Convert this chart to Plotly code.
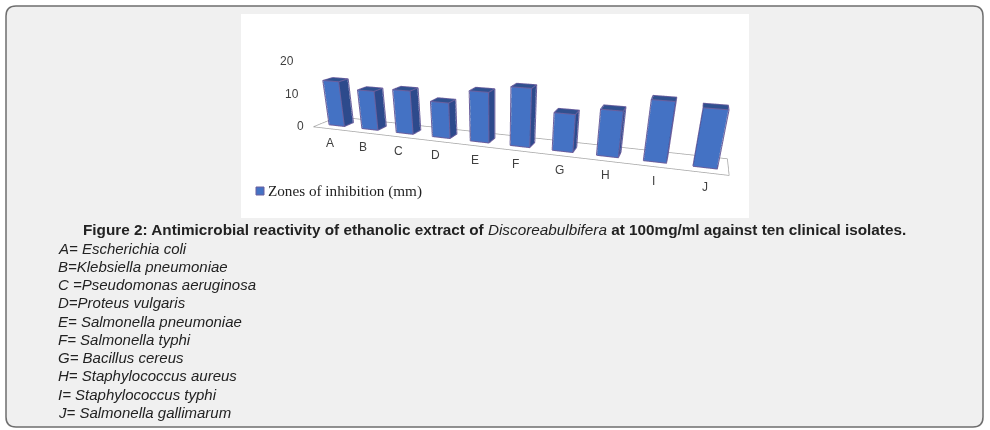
import numpy as np
import plotly.graph_objects as go

# values
categories = ["A", "B", "C", "D", "E", "F", "G", "H", "I", "J"]
zones_mm = [14, 12, 13, 10.5, 14.5, 16.5, 10.5, 12.5, 16, 15]
value_ticks = [0, 10, 20]
series_name = "Zones of inhibition (mm)"
isolates = [
    "A= Escherichia coli",
    "B=Klebsiella pneumoniae",
    "C =Pseudomonas aeruginosa",
    "D=Proteus vulgaris",
    "E= Salmonella pneumoniae",
    "F= Salmonella typhi",
    "G= Bacillus cereus",
    "H= Staphylococcus aureus",
    "I= Staphylococcus typhi",
    "J= Salmonella gallimarum",
]

W, H = 990, 430
FRONT = "#4472C4"
SIDE = "#2D4A8C"
TOP = "#30508F"
EDGE = "#6A5F9E"

# bar footprint in data units (x = category index, y = floor depth 0..1)
half_w = 0.225
y0, y1 = 0.30, 0.66

xs, ys, zs = [], [], []
ii, jj, kk, fc = [], [], [], []
ex, ey, ez = [], [], []
faces = [((0, 1, 2), SIDE), ((0, 2, 3), SIDE),      # bottom
         ((4, 5, 6), TOP), ((4, 6, 7), TOP),        # top
         ((0, 1, 5), FRONT), ((0, 5, 4), FRONT),    # front
         ((3, 2, 6), SIDE), ((3, 6, 7), SIDE),      # back
         ((0, 3, 7), SIDE), ((0, 7, 4), SIDE),      # left
         ((1, 2, 6), SIDE), ((1, 6, 5), SIDE)]      # right
for i, v in enumerate(zones_mm):
    a, b = i - half_w, i + half_w
    base = len(xs)
    xs += [a, b, b, a, a, b, b, a]
    ys += [y0, y0, y1, y1, y0, y0, y1, y1]
    zs += [0, 0, 0, 0, v, v, v, v]
    for (p, q, r), c in faces:
        ii.append(base + p); jj.append(base + q); kk.append(base + r); fc.append(c)
    # outline, pushed out a hair so it is not hidden by the faces
    e = 0.012
    a2, b2, c2, d2, t2 = a - e, b + e, y0 - e, y1 + e, v + 0.06
    loops = [
        [(a2, c2, 0), (b2, c2, 0), (b2, c2, t2), (a2, c2, t2), (a2, c2, 0)],
        [(a2, c2, t2), (a2, d2, t2), (b2, d2, t2), (b2, c2, t2)],
        [(b2, d2, t2), (b2, d2, 0), (b2, c2, 0)],
    ]
    for loop in loops:
        for px_, py_, pz_ in loop:
            ex.append(px_); ey.append(py_); ez.append(pz_)
        ex.append(None); ey.append(None); ez.append(None)

fig = go.Figure()

fig.add_trace(go.Mesh3d(
    x=xs, y=ys, z=zs, i=ii, j=jj, k=kk, facecolor=fc,
    flatshading=True,
    lighting=dict(ambient=1, diffuse=0, specular=0, roughness=1, fresnel=0),
    hoverinfo="skip", showlegend=False,
))
fig.add_trace(go.Scatter3d(
    x=ex, y=ey, z=ez, mode="lines", line=dict(color=EDGE, width=2),
    connectgaps=False, hoverinfo="skip", showlegend=False,
))

# floor outline
x_lo, x_hi = -0.6, len(categories) - 1 + 0.6
f_lo, f_hi = -0.5, len(categories) - 1 + 0.45
fig.add_trace(go.Scatter3d(
    x=[f_lo, f_hi, f_hi, f_lo, f_lo], y=[0, 0, 1, 1, 0], z=[0, 0, 0, 0, 0],
    mode="lines", line=dict(color="#A6A6A6", width=1.5),
    hoverinfo="skip", showlegend=False,
))

tick_font = dict(family="Liberation Sans, Arial", size=12, color="#404040")
scene_ann = []
for i, c in enumerate(categories):
    scene_ann.append(dict(x=i, y=0, z=0, text=c, showarrow=False,
                          yshift=-14, font=tick_font))
for t in value_ticks:
    scene_ann.append(dict(x=f_lo, y=0, z=t, text=str(t), showarrow=False,
                          xanchor="right", xshift=-7, yshift=1, font=tick_font))

hidden = dict(visible=False, showbackground=False, showgrid=False,
              zeroline=False, showspikes=False)
fig.update_layout(
    width=W, height=H,
    margin=dict(l=0, r=0, t=0, b=0),
    paper_bgcolor="white",
    showlegend=False,
    scene=dict(
        domain=dict(x=[0, 1], y=[0, 1]),
        bgcolor="rgba(0,0,0,0)",
        xaxis=dict(range=[x_lo, x_hi], **hidden),
        yaxis=dict(range=[0, 1], **hidden),
        zaxis=dict(range=[0, 20], **hidden),
        aspectmode="manual",
        aspectratio=dict(x=4.08, y=0.42, z=0.65),
        camera=dict(
            eye=dict(x=1.573, y=-4.462, z=1.172),
            center=dict(x=0.092, y=-0.457, z=-0.876),
            up=dict(x=0, y=0, z=1),
            projection=dict(type="perspective"),
        ),
        annotations=scene_ann,
    ),
)


def px(x):
    return x / W


def py(y):
    return 1 - y / H


# page frame: grey rounded panel and the white picture area
r = 10
x0f, x1f, y0f, y1f = 6, 983, 6, 427
path = (f"M {px(x0f + r)} {py(y0f)} L {px(x1f - r)} {py(y0f)} "
        f"Q {px(x1f)} {py(y0f)} {px(x1f)} {py(y0f + r)} "
        f"L {px(x1f)} {py(y1f - r)} Q {px(x1f)} {py(y1f)} {px(x1f - r)} {py(y1f)} "
        f"L {px(x0f + r)} {py(y1f)} Q {px(x0f)} {py(y1f)} {px(x0f)} {py(y1f - r)} "
        f"L {px(x0f)} {py(y0f + r)} Q {px(x0f)} {py(y0f)} {px(x0f + r)} {py(y0f)} Z")
fig.add_shape(type="path", path=path, xref="paper", yref="paper", layer="below",
              fillcolor="#F0F0F0", line=dict(color="#6E6E6E", width=1.5))
fig.add_shape(type="rect", xref="paper", yref="paper", layer="below",
              x0=px(241), x1=px(749), y0=py(218), y1=py(14),
              fillcolor="white", line=dict(width=0))

# legend of the embedded chart
fig.add_shape(type="rect", xref="paper", yref="paper", layer="below",
              x0=px(256), x1=px(264), y0=py(195), y1=py(187),
              fillcolor=FRONT, line=dict(color=EDGE, width=1))
fig.add_annotation(x=px(266), y=py(191), xref="paper", yref="paper",
                   text=series_name, showarrow=False, xanchor="left",
                   yanchor="middle",
                   font=dict(family="Liberation Serif, Times New Roman",
                             size=15.2, color="#222222"))

# caption
text_font = dict(family="Liberation Sans, Arial", size=15, color="#222222")
caption = ("<b>Figure 2: Antimicrobial reactivity of ethanolic extract of </b>"
           "<i>Discoreabulbifera</i>"
           "<b> at 100mg/ml against ten clinical isolates.</b>")
fig.add_annotation(x=px(81), y=py(229), xref="paper", yref="paper",
                   text=caption, showarrow=False, xanchor="left",
                   yanchor="middle", font=dict(text_font, size=15.3))
for k, line in enumerate(isolates):
    fig.add_annotation(x=px(56), y=py(248.3 + 18.22 * k), xref="paper",
                       yref="paper", text=f"<i>{line}</i>", showarrow=False,
                       xanchor="left", yanchor="middle", font=text_font)

fig.write_html("out.html", config=dict(displayModeBar=False),
               post_script="document.body.style.margin = '0px';")
